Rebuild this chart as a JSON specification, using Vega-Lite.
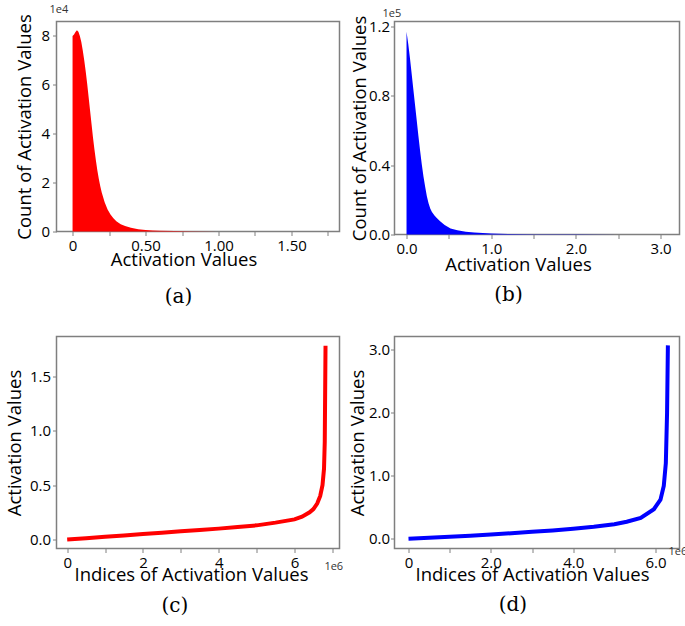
{
  "$schema": "https://vega.github.io/schema/vega-lite/v6.json",
  "padding": {"left": 4.5, "top": 2.5, "right": 0, "bottom": 0},
  "background": "white",
  "config": {
    "view": {"stroke": "#7f7f7f", "strokeWidth": 1.5},
    "axis": {"domain": false, "grid": false, "tickColor": "#808080", "tickSize": 4, "tickWidth": 1,
      "labelFont": "Open Sans", "labelFontSize": 15, "labelColor": "black", "labelPadding": 3,
      "labelFlush": false, "labelOverlap": false,
      "titleFont": "Open Sans", "titleFontSize": 18.5, "titleFontWeight": "normal", "titleColor": "black"},
    "text": {"font": "Open Sans", "fontSize": 11, "color": "#333333"}
  },
  "datasets": {
    "a": [
      {"activation": 0, "count": 80000}, {"activation": 0.01, "count": 80600}, {"activation": 0.02, "count": 81600},
      {"activation": 0.03, "count": 82300}, {"activation": 0.04, "count": 81700}, {"activation": 0.05, "count": 80000},
      {"activation": 0.06, "count": 77500}, {"activation": 0.07, "count": 74000}, {"activation": 0.08, "count": 70000},
      {"activation": 0.09, "count": 65500}, {"activation": 0.1, "count": 60500}, {"activation": 0.11, "count": 55000},
      {"activation": 0.12, "count": 49500}, {"activation": 0.13, "count": 44000}, {"activation": 0.14, "count": 38500},
      {"activation": 0.15, "count": 33500}, {"activation": 0.16, "count": 29000}, {"activation": 0.17, "count": 25000},
      {"activation": 0.18, "count": 21500}, {"activation": 0.19, "count": 18500}, {"activation": 0.2, "count": 16000},
      {"activation": 0.22, "count": 12000}, {"activation": 0.24, "count": 9000}, {"activation": 0.26, "count": 7000},
      {"activation": 0.28, "count": 5400}, {"activation": 0.3, "count": 4200}, {"activation": 0.33, "count": 3000},
      {"activation": 0.36, "count": 2200}, {"activation": 0.4, "count": 1500}, {"activation": 0.45, "count": 950},
      {"activation": 0.5, "count": 650}, {"activation": 0.55, "count": 450}, {"activation": 0.6, "count": 300},
      {"activation": 0.7, "count": 160}, {"activation": 0.8, "count": 100}, {"activation": 1.0, "count": 45},
      {"activation": 1.2, "count": 25}, {"activation": 1.5, "count": 12}, {"activation": 1.76, "count": 6}
    ],
    "b": [
      {"activation": 0, "count": 117000}, {"activation": 0.02, "count": 110000}, {"activation": 0.04, "count": 102000},
      {"activation": 0.06, "count": 93000}, {"activation": 0.08, "count": 84000}, {"activation": 0.1, "count": 75000},
      {"activation": 0.12, "count": 66000}, {"activation": 0.14, "count": 57000}, {"activation": 0.16, "count": 48500},
      {"activation": 0.18, "count": 40500}, {"activation": 0.2, "count": 33500}, {"activation": 0.22, "count": 27500},
      {"activation": 0.24, "count": 22000}, {"activation": 0.26, "count": 18000}, {"activation": 0.28, "count": 15000},
      {"activation": 0.3, "count": 13000}, {"activation": 0.33, "count": 11000}, {"activation": 0.36, "count": 9400},
      {"activation": 0.4, "count": 7500}, {"activation": 0.45, "count": 5500}, {"activation": 0.52, "count": 3500},
      {"activation": 0.6, "count": 2400}, {"activation": 0.7, "count": 1600}, {"activation": 0.8, "count": 1100},
      {"activation": 0.9, "count": 800}, {"activation": 1.0, "count": 600}, {"activation": 1.2, "count": 350},
      {"activation": 1.5, "count": 200}, {"activation": 2.0, "count": 100}, {"activation": 2.5, "count": 50},
      {"activation": 3.05, "count": 30}
    ],
    "c": [
      {"index": 0, "value": 0}, {"index": 500000, "value": 0.012}, {"index": 1000000, "value": 0.025},
      {"index": 1500000, "value": 0.037}, {"index": 2000000, "value": 0.05}, {"index": 2500000, "value": 0.062},
      {"index": 3000000, "value": 0.075}, {"index": 3500000, "value": 0.088}, {"index": 4000000, "value": 0.1},
      {"index": 4500000, "value": 0.115}, {"index": 5000000, "value": 0.13}, {"index": 5500000, "value": 0.155},
      {"index": 6000000, "value": 0.185}, {"index": 6200000, "value": 0.21}, {"index": 6400000, "value": 0.25},
      {"index": 6500000, "value": 0.28}, {"index": 6600000, "value": 0.33}, {"index": 6680000, "value": 0.4},
      {"index": 6740000, "value": 0.5}, {"index": 6780000, "value": 0.65}, {"index": 6800000, "value": 0.9},
      {"index": 6820000, "value": 1.78}
    ],
    "d": [
      {"index": 0, "value": 0}, {"index": 500000, "value": 0.015}, {"index": 1000000, "value": 0.033},
      {"index": 1500000, "value": 0.05}, {"index": 2000000, "value": 0.068}, {"index": 2500000, "value": 0.088},
      {"index": 3000000, "value": 0.11}, {"index": 3500000, "value": 0.133}, {"index": 4000000, "value": 0.16},
      {"index": 4500000, "value": 0.19}, {"index": 5000000, "value": 0.23}, {"index": 5300000, "value": 0.27},
      {"index": 5640000, "value": 0.33}, {"index": 5960000, "value": 0.47}, {"index": 6120000, "value": 0.62},
      {"index": 6200000, "value": 0.84}, {"index": 6250000, "value": 1.2}, {"index": 6280000, "value": 2.0},
      {"index": 6300000, "value": 3.07}
    ]
  },
  "columns": 2,
  "spacing": {"row": 28, "column": 3},
  "concat": [
    {
      "width": 283, "height": 210,
      "title": {"text": "(a)", "orient": "bottom", "anchor": "middle", "frame": "bounds", "font": "DejaVu Serif", "fontSize": 20, "fontWeight": "normal", "offset": 17.5, "dx": 1},
      "layer": [
        {
          "data": {"name": "a"},
          "mark": {"type": "area", "color": "#ff0000"},
          "encoding": {
            "x": {"field": "activation", "type": "quantitative", "scale": {"domain": [-0.11, 1.829], "nice": false, "zero": false},
              "axis": {"title": "Activation Values", "titleX": 127, "titleY": 19, "values": [0, 0.25, 0.5, 0.75, 1, 1.25, 1.5, 1.75],
                "labelExpr": "datum.value == 0 ? '0' : ((datum.value * 4) % 2 == 0 ? format(datum.value, '.2f') : '')"}},
            "y": {"field": "count", "type": "quantitative", "scale": {"domain": [0, 85900], "nice": false},
              "axis": {"title": "Count of Activation Values", "titleX": -22, "labelPadding": 3, "values": [0, 10000, 20000, 30000, 40000, 50000, 60000, 70000, 80000],
                "labelExpr": "(datum.value / 10000) % 2 == 0 ? format(datum.value / 10000, 'd') : ''"}}
          }
        },
        {
          "data": {"values": [{}]},
          "mark": {"type": "text", "align": "left", "baseline": "middle"},
          "encoding": {
            "x": {"datum": -0.158, "type": "quantitative"},
            "y": {"datum": 90800, "type": "quantitative"},
            "text": {"value": "1e4"}
          }
        }
      ]
    },
    {
      "width": 285, "height": 213,
      "title": {"text": "(b)", "orient": "bottom", "anchor": "middle", "frame": "bounds", "font": "DejaVu Serif", "fontSize": 20, "fontWeight": "normal", "offset": 11, "dx": -6.5},
      "layer": [
        {
          "data": {"name": "b"},
          "mark": {"type": "area", "color": "#0000ff"},
          "encoding": {
            "x": {"field": "activation", "type": "quantitative", "scale": {"domain": [-0.142, 3.223], "nice": false, "zero": false},
              "axis": {"title": "Activation Values", "titleX": 123.5, "titleY": 21, "values": [0, 0.5, 1, 1.5, 2, 2.5, 3],
                "labelExpr": "datum.value % 1 == 0 ? format(datum.value, '.1f') : ''"}},
            "y": {"field": "count", "type": "quantitative", "scale": {"domain": [0, 122900], "nice": false},
              "axis": {"title": "Count of Activation Values", "titleX": -25, "labelPadding": 1, "values": [0, 20000, 40000, 60000, 80000, 100000, 120000],
                "labelExpr": "(datum.value / 20000) % 2 == 0 ? format(datum.value / 100000, '.1f') : ''"}}
          }
        },
        {
          "data": {"values": [{}]},
          "mark": {"type": "text", "align": "left", "baseline": "middle"},
          "encoding": {
            "x": {"datum": -0.284, "type": "quantitative"},
            "y": {"datum": 127500, "type": "quantitative"},
            "text": {"value": "1e5"}
          }
        }
      ]
    },
    {
      "width": 283, "height": 212,
      "title": {"text": "(c)", "orient": "bottom", "anchor": "middle", "frame": "bounds", "font": "DejaVu Serif", "fontSize": 20, "fontWeight": "normal", "offset": 11.5, "dx": 0.5},
      "layer": [
        {
          "data": {"name": "c"},
          "mark": {"type": "line", "color": "#ff0000", "strokeWidth": 4},
          "encoding": {
            "x": {"field": "index", "type": "quantitative", "scale": {"domain": [-282000, 7189000], "nice": false, "zero": false},
              "axis": {"title": "Indices of Activation Values", "titleX": 134.5, "titleY": 17, "values": [0, 1000000, 2000000, 3000000, 4000000, 5000000, 6000000, 7000000],
                "labelExpr": "(datum.value / 1000000) % 2 == 0 ? format(datum.value / 1000000, 'd') : ''"}},
            "y": {"field": "value", "type": "quantitative", "scale": {"domain": [-0.0827, 1.866], "nice": false, "zero": false},
              "axis": {"title": "Activation Values", "titleX": -32, "labelPadding": 2, "values": [0, 0.25, 0.5, 0.75, 1, 1.25, 1.5, 1.75],
                "labelExpr": "(datum.value * 4) % 2 == 0 ? format(datum.value, '.1f') : ''"}}
          }
        },
        {
          "data": {"values": [{}]},
          "mark": {"type": "text", "align": "left", "baseline": "middle"},
          "encoding": {
            "x": {"datum": 6790000, "type": "quantitative"},
            "y": {"datum": -0.257, "type": "quantitative"},
            "text": {"value": "1e6"}
          }
        }
      ]
    },
    {
      "width": 285, "height": 212,
      "title": {"text": "(d)", "orient": "bottom", "anchor": "middle", "frame": "bounds", "font": "DejaVu Serif", "fontSize": 20, "fontWeight": "normal", "offset": 10.5, "dx": -5},
      "layer": [
        {
          "data": {"name": "d"},
          "mark": {"type": "line", "color": "#0000ff", "strokeWidth": 4},
          "encoding": {
            "x": {"field": "index", "type": "quantitative", "scale": {"domain": [-340000, 6582000], "nice": false, "zero": false},
              "axis": {"title": "Indices of Activation Values", "titleX": 137.5, "titleY": 17, "values": [0, 1000000, 2000000, 3000000, 4000000, 5000000, 6000000],
                "labelExpr": "datum.value == 0 ? '0' : ((datum.value / 1000000) % 2 == 0 ? format(datum.value / 1000000, '.1f') : '')"}},
            "y": {"field": "value", "type": "quantitative", "scale": {"domain": [-0.154, 3.211], "nice": false, "zero": false},
              "axis": {"title": "Activation Values", "titleX": -27, "labelPadding": 1, "values": [0, 0.5, 1, 1.5, 2, 2.5, 3],
                "labelExpr": "datum.value % 1 == 0 ? format(datum.value, '.1f') : ''"}}
          }
        },
        {
          "data": {"values": [{}]},
          "mark": {"type": "text", "align": "left", "baseline": "middle"},
          "encoding": {
            "x": {"datum": 6315000, "type": "quantitative"},
            "y": {"datum": -0.217, "type": "quantitative"},
            "text": {"value": "1e6"}
          }
        }
      ]
    }
  ]
}
